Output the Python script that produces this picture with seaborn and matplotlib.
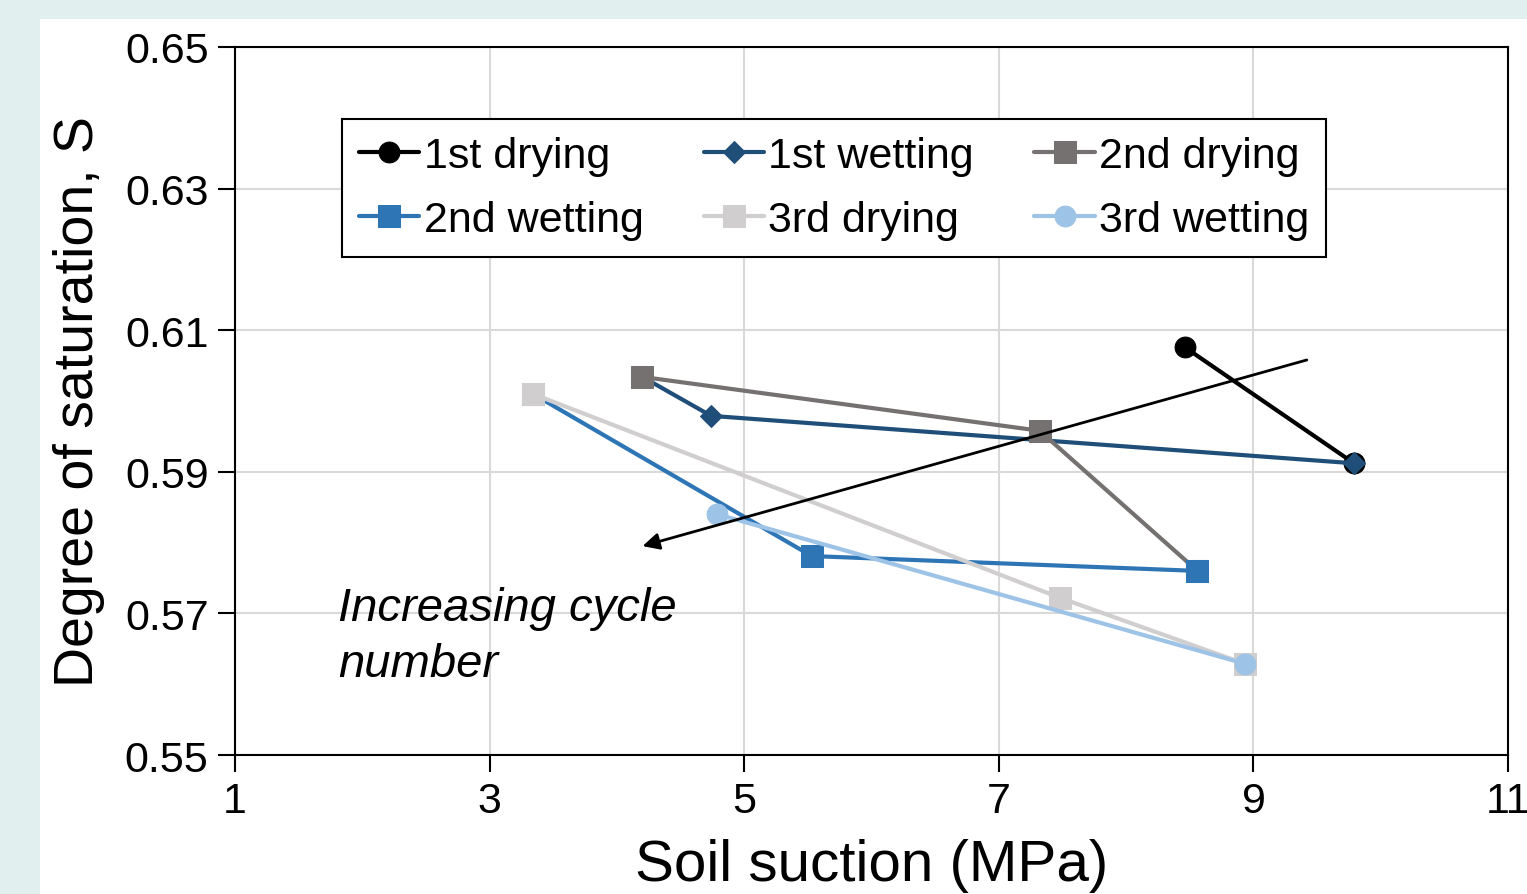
import numpy as np
import pandas as pd
import seaborn as sns
from matplotlib import pyplot as plt
from matplotlib.patches import Rectangle

# values
labels = ['1st drying', '1st wetting', '2nd drying', '2nd wetting', '3rd drying', '3rd wetting']
suction = [
    [8.46, 9.79],
    [9.79, 4.74, 4.20],
    [4.20, 7.32, 8.56],
    [8.56, 5.53, 3.34],
    [3.34, 7.48, 8.93],
    [8.93, 4.79],
]
saturation = [
    [0.6076, 0.5912],
    [0.5912, 0.5979, 0.6034],
    [0.6034, 0.5958, 0.5760],
    [0.5760, 0.5781, 0.6010],
    [0.6010, 0.5722, 0.5629],
    [0.5629, 0.5840],
]
colors = ['#000000', '#1f4e79', '#767171', '#2e75b6', '#d0cece', '#9dc3e6']
markers = ['o', 'D', 's', 's', 's', 'o']
msizes = [15, 11, 16, 16, 16, 15]

sns.set_style('white')
plt.rcParams['font.family'] = ['Liberation Sans Narrow', 'Liberation Sans', 'DejaVu Sans']
plt.rcParams['text.color'] = 'black'
plt.rcParams['axes.labelcolor'] = 'black'

fig = plt.figure(figsize=(15.27, 8.95), dpi=100)
fig.patch.set_facecolor('#e2efef')
fig.patches.append(Rectangle((0.0262, 0), 0.9738, 0.9777, transform=fig.transFigure,
                             facecolor='white', edgecolor='none', zorder=-10))
ax = fig.add_axes([0.1539, 0.1553, 0.8337, 0.7911])

handles = []
for i, lab in enumerate(labels):
    df = pd.DataFrame({'x': suction[i], 'y': saturation[i]})
    sns.lineplot(data=df, x='x', y='y', sort=False, ax=ax, color=colors[i], lw=3,
                 marker=markers[i], markersize=msizes[i], markeredgecolor=colors[i] if i else '#000000',
                 label=lab, zorder=3 + i)
    handles.append(ax.lines[-1])

ax.annotate('', xy=(4.18, 0.5794), xytext=(9.44, 0.6059),
            arrowprops=dict(arrowstyle='-|>', color='black', lw=2, mutation_scale=25), zorder=20)
ax.text(1.81, 0.5598, 'Increasing cycle\nnumber', fontsize=34, style='italic',
        va='bottom', ha='left', linespacing=1.35)

ax.set_xlim(1, 11)
ax.set_ylim(0.55, 0.65)
ax.set_xticks([1, 3, 5, 7, 9, 11])
ax.set_yticks([0.55, 0.57, 0.59, 0.61, 0.63, 0.65])
ax.set_yticklabels(['0.55', '0.57', '0.59', '0.61', '0.63', '0.65'])
ax.grid(True, color='#d9d9d9', lw=1.5)
ax.set_axisbelow(True)
for s in ax.spines.values():
    s.set_color('black')
    s.set_linewidth(1.5)
ax.tick_params(axis='both', direction='out', length=12, width=1.5, labelsize=31,
               left=True, bottom=True, colors='black', pad=7)
ax.set_xlabel('Soil suction (MPa)', fontsize=42, labelpad=12)
ax.set_ylabel('Degree of saturation, S', fontsize=40, labelpad=14)

order = [0, 3, 1, 4, 2, 5]
leg = ax.legend([handles[k] for k in order], [labels[k] for k in order], ncol=3,
                loc='upper left', bbox_to_anchor=(0.084, 0.898), borderaxespad=0,
                fontsize=31, frameon=True, fancybox=False, edgecolor='black', framealpha=1,
                handlelength=1.4, handletextpad=0.1, columnspacing=1.4,
                borderpad=0.4, labelspacing=0.55)
leg.get_frame().set_linewidth(1.5)

fig.savefig('out.png', dpi=100)
